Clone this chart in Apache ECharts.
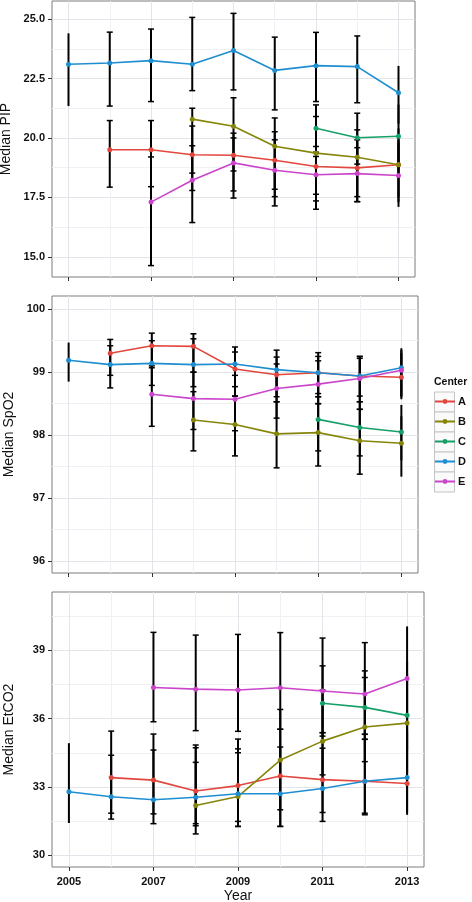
<!DOCTYPE html>
<html>
<head>
<meta charset="utf-8">
<script src="https://cdn.jsdelivr.net/npm/echarts@6/dist/echarts.min.js"></script>
<style>
html,body{margin:0;padding:0;background:#fff;}
#chart{width:472px;height:902px;}
</style>
</head>
<body>
<div id="chart"></div>
<script>
// ---------------- data ----------------
const years = [2005, 2006, 2007, 2008, 2009, 2010, 2011, 2012, 2013];
const centerNames = ['A', 'B', 'C', 'D', 'E'];

const xTicks = [2005, 2007, 2009, 2011, 2013];
const xMinorTicks = [2006, 2008, 2010, 2012];

const pipTicks = [15, 17.5, 20, 22.5, 25];
const pipMinorTicks = [16.25, 18.75, 21.25, 23.75];
const spoTicks = [96, 97, 98, 99, 100];
const spoMinorTicks = [96.5, 97.5, 98.5, 99.5];
const etTicks = [30, 33, 36, 39];
const etMinorTicks = [31.5, 34.5, 37.5, 40.5];

// Median PIP
const pipA   = [null, 19.50, 19.50, 19.29, 19.27, 19.06, 18.80, 18.74, 18.87];
const pipALo = [null, 17.93, 17.95, 17.79, 17.77, 17.53, 17.35, 17.32, 17.50];
const pipAHi = [null, 20.73, 20.73, 20.50, 20.20, 20.26, 19.64, 19.59, 19.90];
const pipB   = [null, null, null, 20.79, 20.49, 19.65, 19.36, 19.19, 18.87];
const pipBLo = [null, null, null, 18.52, 18.61, 17.84, 17.63, 17.53, 17.30];
const pipBHi = [null, null, null, 21.25, 21.69, 20.84, 20.90, 20.34, 20.40];
const pipC   = [null, null, null, null, null, null, 20.41, 20.01, 20.07];
const pipCLo = [null, null, null, null, null, null, 19.22, 18.90, 18.60];
const pipCHi = [null, null, null, null, null, null, 21.39, 21.04, 21.40];
const pipD   = [23.10, 23.15, 23.25, 23.10, 23.68, 22.84, 23.04, 23.00, 21.90];
const pipDLo = [21.34, 21.34, 21.53, 21.99, 22.02, 21.18, 21.53, 21.48, 20.60];
const pipDHi = [24.40, 24.45, 24.58, 25.07, 25.24, 24.24, 24.44, 24.29, 23.03];
const pipE   = [null, null, 17.30, 18.22, 18.95, 18.64, 18.45, 18.50, 18.42];
const pipELo = [null, null, 14.63, 16.44, 17.47, 17.14, 17.00, 17.32, 17.10];
const pipEHi = [null, null, 19.20, 19.67, 20.00, 19.92, 19.40, 19.92, 19.80];

// Median SpO2
const spoA   = [null, 99.30, 99.42, 99.41, 99.05, 98.96, 98.99, 98.94, 98.92];
const spoALo = [null, 98.95, 99.07, 99.00, 98.62, 98.53, 98.61, 98.53, 98.60];
const spoAHi = [null, 99.52, 99.62, 99.61, 99.32, 99.24, 99.25, 99.22, 99.30];
const spoB   = [null, null, null, 98.24, 98.17, 98.02, 98.04, 97.91, 97.87];
const spoBLo = [null, null, null, 97.75, 97.67, 97.48, 97.51, 97.38, 97.34];
const spoBHi = [null, null, null, 98.69, 98.62, 98.53, 98.50, 98.41, 98.30];
const spoC   = [null, null, null, null, null, null, 98.25, 98.12, 98.05];
const spoCLo = [null, null, null, null, null, null, 97.75, 97.67, 97.60];
const spoCHi = [null, null, null, null, null, null, 98.61, 98.53, 98.48];
const spoD   = [99.19, 99.12, 99.14, 99.12, 99.13, 99.04, 98.99, 98.94, 99.07];
const spoDLo = [98.85, 98.75, 98.79, 98.77, 98.77, 98.61, 98.66, 98.62, 98.57];
const spoDHi = [99.47, 99.42, 99.50, 99.53, 99.40, 99.35, 99.31, 99.25, 99.38];
const spoE   = [null, null, 98.65, 98.58, 98.57, 98.74, 98.81, 98.90, 99.03];
const spoELo = [null, null, 98.14, 98.09, 98.07, 98.27, 98.50, 98.41, 98.62];
const spoEHi = [null, null, 99.10, 99.00, 98.95, 99.13, 99.18, 99.25, 99.35];

// Median EtCO2
const etA   = [null, 33.41, 33.30, 32.82, 33.06, 33.48, 33.32, 33.25, 33.15];
const etALo = [null, 31.85, 31.82, 31.39, 31.49, 32.00, 31.88, 31.85, 31.90];
const etAHi = [null, 35.45, 35.32, 34.84, 35.10, 35.53, 35.38, 35.31, 35.40];
const etB   = [null, null, null, 32.19, 32.58, 34.18, 35.01, 35.63, 35.80];
const etBLo = [null, null, null, 30.94, 31.27, 31.27, 33.53, 34.11, 33.60];
const etBHi = [null, null, null, 34.72, 34.50, 36.40, 37.25, 37.80, 38.00];
const etC   = [null, null, null, null, null, null, 36.67, 36.49, 36.14];
const etCLo = [null, null, null, null, null, null, 35.23, 35.09, 34.60];
const etCHi = [null, null, null, null, null, null, 38.31, 38.09, 38.50];
const etD   = [32.79, 32.57, 32.44, 32.55, 32.70, 32.70, 32.93, 33.25, 33.41];
const etDLo = [31.42, 31.59, 31.39, 31.30, 31.27, 31.27, 31.49, 31.78, 31.78];
const etDHi = [34.92, 34.39, 34.62, 34.08, 34.67, 34.75, 34.70, 35.09, 35.50];
const etE   = [null, null, 37.36, 37.29, 37.25, 37.35, 37.21, 37.08, 37.76];
const etELo = [null, null, 35.86, 35.47, 35.44, 35.53, 35.38, 35.31, 35.50];
const etEHi = [null, null, 39.78, 39.66, 39.69, 39.77, 39.53, 39.33, 40.04];

// ---------------- styling / layout ----------------
const colors = ['#E2473E', '#85850A', '#16A068', '#1E8ED0', '#CB45CB'];
const FONT = 'Liberation Sans, Arial, Helvetica, sans-serif';

const panels = [
  { name: 'Median PIP', min: 14.15, max: 25.76, ticks: pipTicks, minor: pipMinorTicks, fmt: v => v.toFixed(1),
    med: [pipA, pipB, pipC, pipD, pipE], lo: [pipALo, pipBLo, pipCLo, pipDLo, pipELo], hi: [pipAHi, pipBHi, pipCHi, pipDHi, pipEHi],
    grid: { left: 52, top: 1, width: 363, height: 276 } },
  { name: 'Median SpO2', min: 95.81, max: 100.21, ticks: spoTicks, minor: spoMinorTicks, fmt: v => String(v),
    med: [spoA, spoB, spoC, spoD, spoE], lo: [spoALo, spoBLo, spoCLo, spoDLo, spoELo], hi: [spoAHi, spoBHi, spoCHi, spoDHi, spoEHi],
    grid: { left: 52, top: 296, width: 366, height: 277 } },
  { name: 'Median EtCO2', min: 29.49, max: 41.55, ticks: etTicks, minor: etMinorTicks, fmt: v => String(v),
    med: [etA, etB, etC, etD, etE], lo: [etALo, etBLo, etCLo, etDLo, etELo], hi: [etAHi, etBHi, etCHi, etDHi, etEHi],
    grid: { left: 52, top: 592, width: 372, height: 275 } }
];

const xMin = 2004.6, xMax = 2013.4;
const firstYear = years[0], lastYear = years[years.length - 1];

const grids = [], xAxes = [], yAxes = [], series = [];
const NP = panels.length;

panels.forEach((p, i) => {
  grids.push(Object.assign({ show: true, borderColor: '#7d7d7d', borderWidth: 1, backgroundColor: '#fff',
                             containLabel: false, outerBoundsMode: 'none' }, p.grid));
  const last = i === NP - 1;
  xAxes[i] = {
    type: 'value', gridIndex: i, min: xMin, max: xMax, position: 'bottom',
    axisLine: { show: false },
    axisTick: { show: true, length: 4, customValues: xTicks, lineStyle: { color: '#333', width: 1 } },
    axisLabel: { show: last, customValues: xTicks, formatter: v => String(v), fontSize: 11, fontWeight: 'bold',
                 color: '#111', margin: 9, fontFamily: FONT },
    splitLine: { show: true, lineStyle: { color: '#e3e3ea', width: 1 } },
    name: last ? 'Year' : '', nameLocation: 'middle', nameGap: 22,
    nameTextStyle: { fontSize: 14, color: '#111', fontFamily: FONT }
  };
  xAxes[NP + i] = {
    type: 'value', gridIndex: i, min: xMin, max: xMax, position: 'bottom',
    axisLine: { show: false },
    axisTick: { show: false, customValues: xMinorTicks },
    axisLabel: { show: false, customValues: xMinorTicks },
    splitLine: { show: true, lineStyle: { color: '#f1f1f5', width: 1 } }
  };
  yAxes[i] = {
    type: 'value', gridIndex: i, min: p.min, max: p.max, position: 'left',
    axisLine: { show: false },
    axisTick: { show: true, length: 4, customValues: p.ticks, lineStyle: { color: '#333', width: 1 } },
    axisLabel: { show: true, customValues: p.ticks, formatter: p.fmt, fontSize: 11, fontWeight: 'bold',
                 color: '#111', margin: 7, fontFamily: FONT },
    splitLine: { show: true, lineStyle: { color: '#e3e3ea', width: 1 } },
    name: p.name, nameLocation: 'middle', nameGap: 36,
    nameTextStyle: { fontSize: 14, color: '#111', fontFamily: FONT }
  };
  yAxes[NP + i] = {
    type: 'value', gridIndex: i, min: p.min, max: p.max, position: 'left',
    axisLine: { show: false },
    axisTick: { show: false, customValues: p.minor },
    axisLabel: { show: false, customValues: p.minor },
    splitLine: { show: true, lineStyle: { color: '#f1f1f5', width: 1 } }
  };

  // error bars (one custom series per panel)
  const ebData = [];
  centerNames.forEach((c, k) => {
    years.forEach((yr, j) => {
      if (p.lo[k][j] != null && p.hi[k][j] != null) ebData.push([yr, p.lo[k][j], p.hi[k][j]]);
    });
  });
  series.push({
    type: 'custom', xAxisIndex: i, yAxisIndex: i, z: 1, silent: true,
    encode: { x: 0, y: [1, 2] },
    data: ebData,
    renderItem: function (params, api) {
      const x = api.value(0);
      const a = api.coord([x, api.value(1)]);
      const b = api.coord([x, api.value(2)]);
      const kids = [{ type: 'line', shape: { x1: a[0], y1: a[1], x2: b[0], y2: b[1] },
                      style: { stroke: '#000', lineWidth: 2 } }];
      if (x !== firstYear && x !== lastYear) {
        const w = 3;
        kids.push({ type: 'line', shape: { x1: a[0] - w, y1: a[1], x2: a[0] + w, y2: a[1] }, style: { stroke: '#000', lineWidth: 1.5 } });
        kids.push({ type: 'line', shape: { x1: b[0] - w, y1: b[1], x2: b[0] + w, y2: b[1] }, style: { stroke: '#000', lineWidth: 1.5 } });
      }
      return { type: 'group', children: kids };
    }
  });
});

// lines + points
panels.forEach((p, i) => {
  centerNames.forEach((c, k) => {
    const d = [];
    years.forEach((yr, j) => { if (p.med[k][j] != null) d.push([yr, p.med[k][j]]); });
    series.push({
      name: c, type: 'line', xAxisIndex: i, yAxisIndex: i, z: 3,
      data: d, symbol: 'circle', symbolSize: 5, showSymbol: true,
      lineStyle: { color: colors[k], width: 1.6 },
      itemStyle: { color: colors[k] },
      animation: false, silent: true
    });
  });
});

const keyBoxes = centerNames.map((c, k) => ({
  type: 'rect', left: 434, top: 391.5 + 20 * k, z: 0,
  shape: { width: 20, height: 20 },
  style: { fill: '#fafafa', stroke: '#c4c4c4', lineWidth: 1 }
}));

const chart = echarts.init(document.getElementById('chart'), null, { renderer: 'canvas' });
chart.setOption({
  animation: false,
  backgroundColor: '#fff',
  grid: grids,
  xAxis: xAxes,
  yAxis: yAxes,
  title: { text: 'Center', left: 434, top: 377, padding: 0,
           textStyle: { fontSize: 10.5, fontWeight: 'bold', color: '#111', fontFamily: FONT } },
  legend: {
    data: centerNames, orient: 'vertical', left: 434, top: 394.5, padding: 0,
    itemWidth: 20, itemHeight: 6, itemGap: 6,
    textStyle: { fontSize: 11, fontWeight: 'bold', color: '#111', lineHeight: 14, fontFamily: FONT, padding: [0, 0, 0, -2] },
    selectedMode: false
  },
  graphic: keyBoxes,
  series: series
});
</script>
</body>
</html>
